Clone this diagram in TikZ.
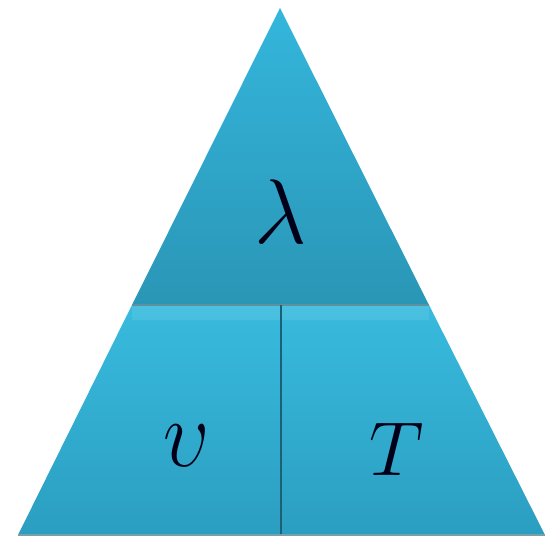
\documentclass[tikz,border=0pt]{standalone}
\definecolor{topcyan}{RGB}{52,182,220}
\definecolor{topdeep}{RGB}{42,150,182}
\definecolor{lowcyan}{RGB}{56,187,222}
\definecolor{lowdeep}{RGB}{43,158,192}
\definecolor{edgeteal}{RGB}{28,96,118}
\begin{document}
\begin{tikzpicture}[x=0.02cm,y=-0.02cm,line join=round,
  letter/.style={inner sep=0pt,font=\Huge,text=black!90!blue}]
\useasboundingbox (0,0) rectangle (559,540);
% corners of the triangle
\coordinate (apex) at (280,8);
\coordinate (bl) at (18,535);
\coordinate (br) at (545,535);
\coordinate (ml) at (132,305);
\coordinate (mr) at (429,305);
\coordinate (mt) at (281,305);
\coordinate (mb) at (281,535);
% top part
\shade[top color=topcyan,bottom color=topdeep] (apex) -- (mr) -- (ml) -- cycle;
% lower parts
\shade[top color=lowcyan,bottom color=lowdeep] (ml) -- (mt) -- (mb) -- (bl) -- cycle;
\shade[top color=lowcyan,bottom color=lowdeep] (mt) -- (mr) -- (br) -- (mb) -- cycle;
\begin{scope}
\clip (ml) -- (mr) -- (br) -- (bl) -- cycle;
\fill[white,opacity=0.09] (ml) -- (mr) -- ([yshift=-0.3cm]mr) -- ([yshift=-0.3cm]ml) -- cycle;
\end{scope}
\draw[edgeteal!70,line width=1.2pt] (ml) -- (mr);
\draw[edgeteal,line width=1pt] (mt) -- (mb);
\draw[edgeteal!60,line width=0.8pt] (bl) -- (br);
% letters
\node[letter,scale=2.1] (lam) at (281,212) {$\lambda$};
\node[letter,scale=2.2,xscale=0.85] (ups) at (187,446) {$\upsilon$};
\node[letter,scale=1.75] (tee) at (397,449) {$T$};
\end{tikzpicture}
\end{document}
